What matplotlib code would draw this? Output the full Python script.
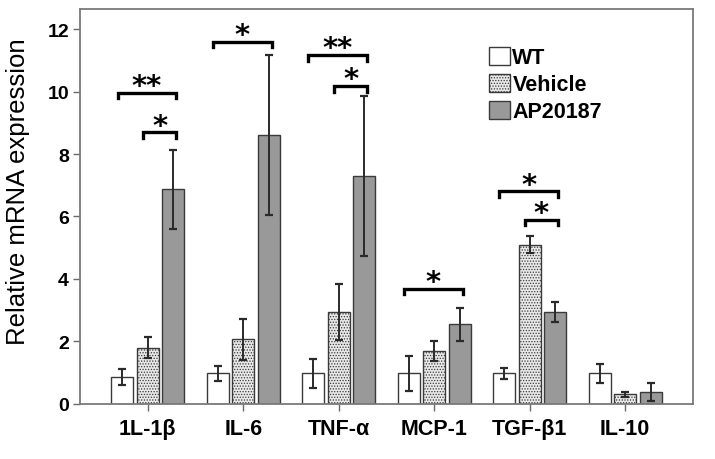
import numpy as np
import matplotlib
matplotlib.use("Agg")
import matplotlib.pyplot as plt

# ===================== data =====================
genes = ["1L-1β", "IL-6", "TNF-α", "MCP-1", "TGF-β1", "IL-10"]
groups = ["WT", "Vehicle", "AP20187"]

wt_mean = [0.86, 0.98, 0.98, 0.98, 0.98, 0.98]
wt_err = [0.25, 0.24, 0.47, 0.56, 0.18, 0.30]
veh_mean = [1.80, 2.07, 2.93, 1.69, 5.10, 0.30]
veh_err = [0.34, 0.66, 0.90, 0.31, 0.26, 0.08]
ap_mean = [6.87, 8.62, 7.29, 2.55, 2.95, 0.39]
ap_err = [1.27, 2.56, 2.56, 0.53, 0.32, 0.29]

# (gene index, first bar, second bar, bracket height, label)
brackets = [
    (0, 0, 2, 9.96, "**"),
    (0, 1, 2, 8.69, "*"),
    (1, 0, 2, 11.60, "*"),
    (2, 0, 2, 11.16, "**"),
    (2, 1, 2, 10.17, "*"),
    (3, 0, 2, 3.68, "*"),
    (4, 0, 2, 6.80, "*"),
    (4, 1, 2, 5.89, "*"),
]

# ===================== style =====================
plt.rcParams["font.family"] = ["Liberation Sans", "DejaVu Sans"]
plt.rcParams["hatch.color"] = "#8a8a8a"
plt.rcParams["hatch.linewidth"] = 0.6

fig = plt.figure(figsize=(7.15, 4.6), dpi=100)
ax = fig.add_axes([0.112, 0.12, 0.857, 0.858])

x = np.arange(len(genes))
offset = 0.267
width = 0.23
edge = "#3a3a3a"

series = [
    (wt_mean, wt_err, dict(facecolor="white", hatch=None)),
    (veh_mean, veh_err, dict(facecolor="#e8e8e8", hatch="......")),
    (ap_mean, ap_err, dict(facecolor="#999999", hatch=None)),
]
for k, (m, e, st) in enumerate(series):
    pos = x + (k - 1) * offset
    ax.bar(pos, m, width, color=st["facecolor"], hatch=st["hatch"],
           edgecolor=edge, linewidth=1.0, label=groups[k], zorder=2)
    ax.errorbar(pos, m, yerr=e, fmt="none", ecolor="#2a2a2a",
                elinewidth=1.4, capsize=3, capthick=1.6, zorder=3)

# significance brackets
for g, i, j, h, lab in brackets:
    x0 = x[g] + (i - 1) * offset - 0.05
    x1 = x[g] + (j - 1) * offset + 0.03
    drop = 0.17
    ax.plot([x0, x0, x1, x1], [h - drop, h, h, h - drop], color="black",
            linewidth=2.4, solid_joinstyle="miter", zorder=4)
    ax.text((x0 + x1) / 2, h + 0.22, lab, ha="center", va="center",
            fontsize=21, family="DejaVu Sans", fontweight="bold", zorder=4)

ax.set_xlim(-0.71, len(genes) - 1 + 0.71)
ax.set_ylim(0, 12.64)
ax.set_yticks([0, 2, 4, 6, 8, 10, 12])
ax.set_xticks(x)
ax.set_xticklabels(genes, fontsize=15.5, fontweight="bold")
for t in ax.get_yticklabels():
    t.set_fontsize(14)
    t.set_fontweight("bold")
ax.tick_params(axis="both", direction="out", length=5, width=1.0,
               color="#6a6a6a", pad=3)
ax.tick_params(axis="x", pad=5)
for s in ax.spines.values():
    s.set_color("#7a7a7a")
    s.set_linewidth(1.3)

ax.set_ylabel("Relative mRNA expression", fontsize=18.5)
ax.yaxis.set_label_coords(-0.082, 0.54)

leg = ax.legend(loc="upper left", bbox_to_anchor=(0.668, 0.905),
                frameon=False, prop=dict(weight="bold", size=15.5),
                handlelength=0.95, handleheight=0.95, handletextpad=0.12,
                labelspacing=0.25, borderpad=0, borderaxespad=0)

fig.savefig("out.png", dpi=100)
